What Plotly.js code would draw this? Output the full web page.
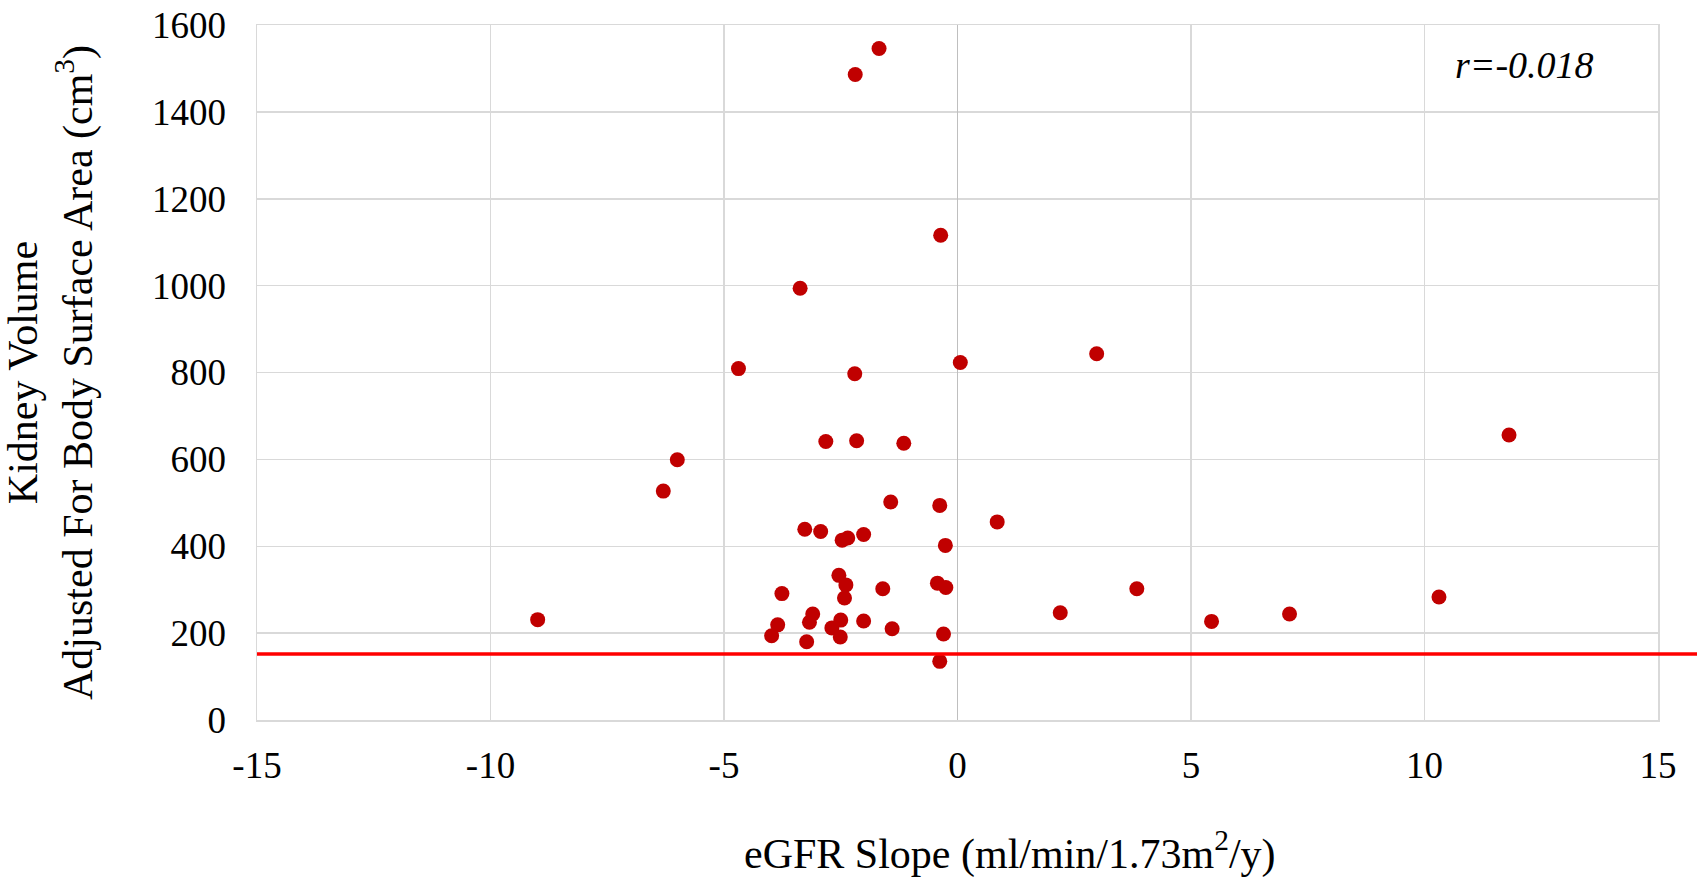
<!DOCTYPE html>
<html>
<head>
<meta charset="utf-8">
<script src="https://cdn.plot.ly/plotly-3.0.1.min.js"></script>
<style>html,body{margin:0;padding:0;background:#fff;}#chart{width:1697px;height:882px;}</style>
</head>
<body>
<div id="chart"></div>
<script>
// eGFR slope (ml/min/1.73m²/y)
const egfrSlope = [
  -1.68, -2.19, -0.36, -3.37, -4.69, -2.20, 0.06, 2.98,
  -6.00, -6.30, -2.82, -2.16, -1.15, -1.43, -0.38, -0.26, 0.85,
  -3.27, -2.93, -2.47, -2.35, -2.01, -2.54, -2.39, -2.42, -3.76,
  -1.60, -0.43, -0.25, 3.84, 10.31, 11.81, 2.20, 5.44, 7.11, -8.99,
  -3.10, -3.17, -3.85, -3.98, -3.23, -2.69, -2.50, -2.51, -2.01,
  -1.40, -0.30, -0.38
];
// Kidney volume adjusted for BSA (cm³)
const kidneyVolume = [
  1546, 1486, 1116, 994, 809, 797, 823, 843,
  599, 527, 641, 643, 637, 502, 494, 402, 456,
  439, 434, 414, 419, 427, 333, 311, 281, 291,
  302, 315, 305, 302, 283, 656, 247, 227, 244, 231,
  244, 225, 219, 194, 180, 212, 230, 191, 228,
  210, 198, 135
];
const thresholdValue = 152;
const xTickVals = [-15, -10, -5, 0, 5, 10, 15];
const yTickVals = [0, 200, 400, 600, 800, 1000, 1200, 1400, 1600];
const correlationLabel = 'r=-0.018';
const xTitleText = 'eGFR Slope (ml/min/1.73m<sup>2</sup>/y)';
const yTitleText = 'Kidney Volume<br>Adjusted For Body Surface Area (cm<sup>3</sup>)';

const fontFamily = '"Liberation Serif", "Times New Roman", serif';

const trace = {
  type: 'scatter',
  mode: 'markers',
  x: egfrSlope,
  y: kidneyVolume,
  marker: {color: '#c00000', size: 15},
  showlegend: false,
  hoverinfo: 'x+y'
};

const layout = {
  width: 1697,
  height: 882,
  margin: {l: 257, r: 39, t: 25, b: 162},
  paper_bgcolor: '#ffffff',
  plot_bgcolor: '#ffffff',
  font: {family: fontFamily, size: 37, color: '#000000'},
  showlegend: false,
  xaxis: {
    range: [-15, 15],
    tickvals: xTickVals,
    ticktext: xTickVals.map(String),
    showgrid: true,
    gridcolor: '#d9d9d9',
    gridwidth: 1.5,
    zeroline: true,
    zerolinecolor: '#bfbfbf',
    zerolinewidth: 1.5,
    showline: true,
    linecolor: '#d9d9d9',
    linewidth: 1.5,
    mirror: true,
    ticks: '',
    ticklabelstandoff: 12,
    tickfont: {family: fontFamily, size: 37, color: '#000'},
    fixedrange: true
  },
  yaxis: {
    range: [0, 1600],
    tickvals: yTickVals,
    ticktext: yTickVals.map(String),
    showgrid: true,
    gridcolor: '#d9d9d9',
    gridwidth: 1.5,
    zeroline: true,
    zerolinecolor: '#d9d9d9',
    zerolinewidth: 1.5,
    showline: true,
    linecolor: '#d9d9d9',
    linewidth: 1.5,
    mirror: true,
    ticks: '',
    ticklabelstandoff: 22,
    tickfont: {family: fontFamily, size: 37, color: '#000'},
    title: {
      text: yTitleText,
      font: {family: fontFamily, size: 42, color: '#000'},
      standoff: 56
    },
    fixedrange: true
  },
  shapes: [
    {type: 'line', xref: 'paper', x0: 0, x1: 1.2, yref: 'y', y0: thresholdValue, y1: thresholdValue,
     line: {color: '#ff0000', width: 3.5}}
  ],
  annotations: [
    {xref: 'paper', yref: 'paper', x: 0.905, y: 0.942, text: '<i>' + correlationLabel + '</i>',
     showarrow: false, xanchor: 'center', yanchor: 'middle',
     font: {family: fontFamily, size: 38, color: '#000'}},
    {xref: 'paper', yref: 'paper', x: 0.5375, y: -0.188, text: xTitleText,
     showarrow: false, xanchor: 'center', yanchor: 'middle',
     font: {family: fontFamily, size: 42, color: '#000'}}
  ]
};

Plotly.newPlot('chart', [trace], layout, {displayModeBar: false, staticPlot: true});
</script>
</body>
</html>
